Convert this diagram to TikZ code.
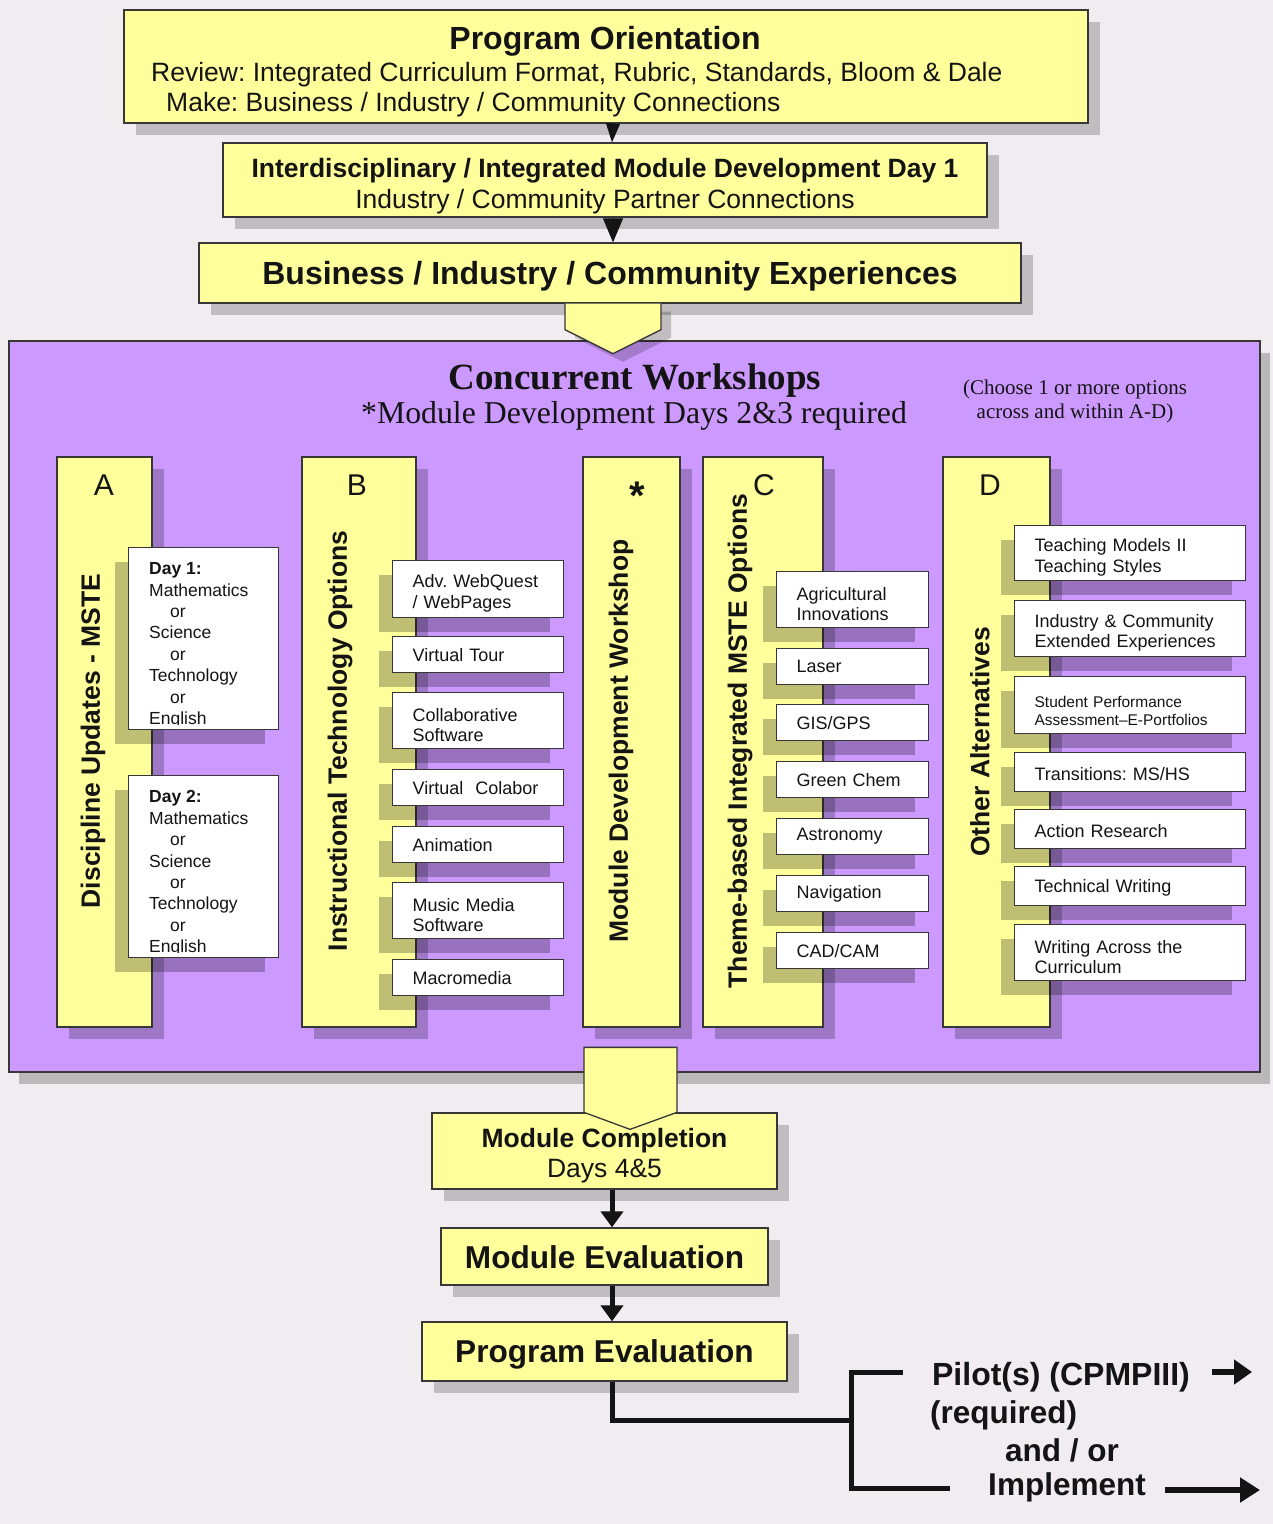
\documentclass[tikz,border=0pt]{standalone}
\usepackage{fontspec}
\setmainfont{Liberation Sans}
\newfontfamily\seriffont{Liberation Serif}
\usetikzlibrary{shadows,arrows.meta,calc}
\frenchspacing
\definecolor{bgcol}{RGB}{240,236,239}
\definecolor{boxyellow}{RGB}{255,255,155}
\definecolor{workpurple}{RGB}{204,153,255}
\definecolor{edgecol}{RGB}{55,55,55}
\definecolor{inkcol}{RGB}{20,20,20}
\newcommand\fsz[2]{\fontsize{#1}{#2}\selectfont}
\newcommand\lowerfirst{\rule{0pt}{22pt}}
\tikzset{
  ybox/.style={draw=edgecol, line width=1.3pt, fill=boxyellow, inner sep=0pt, text=inkcol,
    drop shadow={shadow xshift=12pt, shadow yshift=-12pt, opacity=0.2, fill=black}},
  colbox/.style={draw=edgecol, line width=1.3pt, fill=boxyellow, inner sep=0pt, minimum height=570pt,
    drop shadow={shadow xshift=12pt, shadow yshift=-12pt, opacity=0.22, fill=black}},
  optbox/.style={draw=edgecol, line width=1.2pt, fill=white, inner ysep=0pt, inner xsep=20pt,
    align=left, anchor=north west, text=inkcol, font=\fsz{18}{20.5},
    drop shadow={shadow xshift=-14pt, shadow yshift=-14pt, opacity=0.25, fill=black}},
  lbl/.style={text=inkcol, inner sep=0pt},
  daytext/.style={lbl, anchor=north west, align=left, font=\fsz{17.5}{21.4}},
  coltitle/.style={lbl, rotate=90, font=\fsz{26.5}{30}\bfseries},
  colletter/.style={lbl, font=\fsz{30}{32}},
  flowarrow/.style={draw=inkcol, line width=5pt, -{Triangle[width=22pt,length=16pt]}},
  branchline/.style={draw=inkcol, line width=5pt},
  blockarrow/.style={draw=edgecol, line width=1.3pt, fill=boxyellow},
}
\begin{document}
\begin{tikzpicture}[x=1pt,y=-1pt]
\useasboundingbox (0,0) rectangle (1273,1524);
\fill[bgcol] (0,0) rectangle (1273,1524);

% ---------- Concurrent workshops frame ----------
\node[draw=edgecol, line width=1.3pt, fill=workpurple, minimum width=1251pt, minimum height=731pt,
  drop shadow={shadow xshift=10pt, shadow yshift=-12pt, opacity=0.22, fill=black}] (cw) at (634.5,706.5) {};
\node[lbl, font=\seriffont\fsz{37}{40}\bfseries] (cwtitle) at (635,381) {Concurrent Workshops};
\node[lbl, font=\seriffont\fsz{31.8}{34}] (cwsub) at (634,416) {*Module Development Days 2\&3 required};
\node[lbl, font=\seriffont\fsz{21}{24}, align=center] (cwnote) at (1075,401) {(Choose 1 or more options\\across and within A-D)};

% ---------- columns ----------
\node[colbox, minimum width=95pt] (colA) at (104.5,742) {};
\node[colbox, minimum width=114pt] (colB) at (359,742) {};
\node[colbox, minimum width=97pt] (colM) at (631.5,742) {};
\node[colbox, minimum width=120pt] (colC) at (763,742) {};
\node[colbox, minimum width=107pt] (colD) at (996.5,742) {};

\node[colletter] (letA) at (104,485) {A};
\node[colletter] (letB) at (357,485) {B};
\node[lbl, font=\fsz{40}{40}\bfseries] (letM) at (637,496) {*};
\node[colletter] (letC) at (764,485) {C};
\node[colletter] (letD) at (990,485) {D};

\node[coltitle] (titA) at (93,741) {Discipline Updates - MSTE};
\node[coltitle] (titB) at (340,741) {Instructional Technology Options};
\node[coltitle] (titM) at (621,741) {Module Development Workshop};
\node[coltitle] (titC) at (740,741) {Theme-based Integrated MSTE Options};
\node[coltitle] (titD) at (980,742) {Other Alternatives};

% ---------- A options ----------
\node[optbox, minimum width=150pt, minimum height=182pt] (a1) at (128,547) {};
\begin{scope}
  \clip (a1.north west) rectangle ($(a1.south east)+(0,-6)$);
  \node[daytext] (a1text) at (149,562.5)
    {\textbf{Day 1:}\\Mathematics\\\hspace*{21pt}or\\Science\\\hspace*{21pt}or\\Technology\\\hspace*{21pt}or\\English};
\end{scope}
\node[optbox, minimum width=150pt, minimum height=182pt] (a2) at (128,775) {};
\begin{scope}
  \clip (a2.north west) rectangle ($(a2.south east)+(0,-6)$);
  \node[daytext] (a2text) at (149,790.5)
    {\textbf{Day 2:}\\Mathematics\\\hspace*{21pt}or\\Science\\\hspace*{21pt}or\\Technology\\\hspace*{21pt}or\\English};
\end{scope}

% ---------- B options ----------
\node[optbox, text width=131pt, minimum height=57pt] (b1) at (392,560) {\lowerfirst Adv. WebQuest\\/ WebPages};
\node[optbox, text width=131pt, minimum height=36pt] (b2) at (392,636) {Virtual Tour};
\node[optbox, text width=131pt, minimum height=56pt] (b3) at (392,692) {\lowerfirst Collaborative\\Software};
\node[optbox, text width=131pt, minimum height=36pt] (b4) at (392,769) {Virtual\ \ Colabor};
\node[optbox, text width=131pt, minimum height=36pt] (b5) at (392,826) {Animation};
\node[optbox, text width=131pt, minimum height=56pt] (b6) at (392,882) {\lowerfirst Music Media\\Software};
\node[optbox, text width=131pt, minimum height=36pt] (b7) at (392,959) {Macromedia};

% ---------- C options ----------
\node[optbox, text width=112pt, minimum height=56pt] (c1) at (776,571) {\lowerfirst Agricultural\\Innovations};
\node[optbox, text width=112pt, minimum height=36pt] (c2) at (776,648) {Laser};
\node[optbox, text width=112pt, minimum height=36pt] (c3) at (776,704) {GIS/GPS};
\node[optbox, text width=112pt, minimum height=36pt] (c4) at (776,761) {Green Chem};
\node[optbox, text width=112pt, minimum height=36pt] (c5) at (776,818) {Astronomy};
\node[optbox, text width=112pt, minimum height=36pt] (c6) at (776,875) {Navigation};
\node[optbox, text width=112pt, minimum height=36pt] (c7) at (776,932) {CAD/CAM};

% ---------- D options ----------
\node[optbox, text width=191pt, minimum height=55pt] (d1) at (1014,525) {\lowerfirst Teaching Models II\\Teaching Styles};
\node[optbox, text width=191pt, minimum height=56pt] (d2) at (1014,600) {\lowerfirst Industry \& Community\\Extended Experiences};
\node[optbox, text width=191pt, minimum height=57pt, font=\fsz{15.5}{18}] (d3) at (1014,676) {\lowerfirst Student Performance\\Assessment–E-Portfolios};
\node[optbox, text width=191pt, minimum height=39pt] (d4) at (1014,752) {\rule{0pt}{17pt}Transitions: MS/HS};
\node[optbox, text width=191pt, minimum height=39pt] (d5) at (1014,809) {\rule{0pt}{17pt}Action Research};
\node[optbox, text width=191pt, minimum height=39pt] (d6) at (1014,866) {\rule{0pt}{17pt}Technical Writing};
\node[optbox, text width=191pt, minimum height=56pt] (d7) at (1014,924) {\lowerfirst Writing Across the\\Curriculum};

% ---------- top flow ----------
\node[ybox, minimum width=964pt, minimum height=113pt] (po) at (606,66.5) {};
\node[lbl, font=\fsz{32}{34}\bfseries] (potitle) at (605,41) {Program Orientation};
\node[lbl, font=\fsz{26.5}{30}, anchor=west] (poreview) at (151,75) {Review: Integrated Curriculum Format, Rubric, Standards, Bloom \& Dale};
\node[lbl, font=\fsz{26.5}{30}, anchor=west] (pomake) at (166,105) {Make: Business / Industry / Community Connections};

\node[ybox, minimum width=764pt, minimum height=74pt] (idm) at (605,180) {};
\node[lbl, align=center, font=\fsz{26.5}{31}] (idmtext) at (605,186)
  {\textbf{Interdisciplinary / Integrated Module Development Day 1}\\Industry / Community Partner Connections};

\node[ybox, minimum width=822pt, minimum height=60pt] (biz) at (610,273) {};
\node[lbl, font=\fsz{32}{34}\bfseries] (biztext) at (610,276) {Business / Industry / Community Experiences};

\draw[draw=inkcol, line width=1pt, -{Triangle[width=14pt,length=19pt]}] ([xshift=7pt]po.south) -- ([xshift=7pt]idm.north);
\draw[draw=inkcol, line width=1pt, -{Triangle[width=20pt,length=24pt]}] ([xshift=8pt]idm.south) -- ([xshift=3pt]biz.north);

\path[blockarrow, drop shadow={shadow xshift=10pt, shadow yshift=-8pt, opacity=0.2, fill=black}]
  ($(biz.south)+(-45,0)$) -- ($(biz.south)+(-45,26)$) -- ($(biz.south)+(3,50)$)
  -- ($(biz.south)+(51,26)$) -- ($(biz.south)+(51,0)$);

% ---------- bottom flow ----------
\node[ybox, minimum width=345pt, minimum height=76pt] (mc) at (604.5,1151) {};
\node[lbl, align=center, font=\fsz{26.5}{30}] (mctext) at (604.5,1156) {\textbf{Module Completion}\\Days 4\&5};
\path[blockarrow]
  ($(mc.north)+(-20.5,-65)$) -- ($(mc.north)+(72.5,-65)$) -- ($(mc.north)+(72.5,0)$)
  -- ($(mc.north)+(25.5,17)$) -- ($(mc.north)+(-20.5,0)$) -- cycle;

\node[ybox, minimum width=327pt, minimum height=57pt] (me) at (604.5,1256.5) {};
\node[lbl, font=\fsz{31.6}{34}\bfseries] (metext) at (604.5,1257.5) {Module Evaluation};
\node[ybox, minimum width=365pt, minimum height=59pt] (pe) at (604.5,1351.5) {};
\node[lbl, font=\fsz{31.6}{34}\bfseries] (petext) at (604.5,1354.5) {Program Evaluation};

\draw[flowarrow] ([xshift=7.5pt]mc.south) -- ([xshift=7.5pt]me.north);
\draw[flowarrow] ([xshift=7.5pt]me.south) -- ([xshift=7.5pt]pe.north);

\coordinate (split) at (851,1420);
\coordinate (toptee) at (851,1372);
\coordinate (bottee) at (851,1488);
\coordinate (topend) at (903,1372);
\coordinate (botend) at (950,1488);
\draw[branchline] ([xshift=7.5pt]pe.south) |- (split);
\draw[branchline] (topend) -- (toptee) -- (bottee) -- (botend);

\node[lbl, font=\fsz{32}{34}\bfseries] (pilot) at (1061,1377) {Pilot(s) (CPMPIII)};
\node[lbl, font=\fsz{31.5}{34}\bfseries, anchor=west] (required) at (930,1415) {(required)};
\node[lbl, font=\fsz{31.5}{34}\bfseries] (andor) at (1062,1450) {and / or};
\node[lbl, font=\fsz{31.5}{34}\bfseries] (implement) at (1067,1487) {Implement};

\coordinate (pa1) at (1212,1372);
\coordinate (pa2) at (1252,1372);
\coordinate (ia1) at (1165,1490);
\coordinate (ia2) at (1260,1490);
\draw[draw=inkcol, line width=6pt, -{Triangle[width=24pt,length=18pt]}] (pa1) -- (pa2);
\draw[draw=inkcol, line width=6pt, -{Triangle[width=24pt,length=20pt]}] (ia1) -- (ia2);
\end{tikzpicture}
\end{document}
